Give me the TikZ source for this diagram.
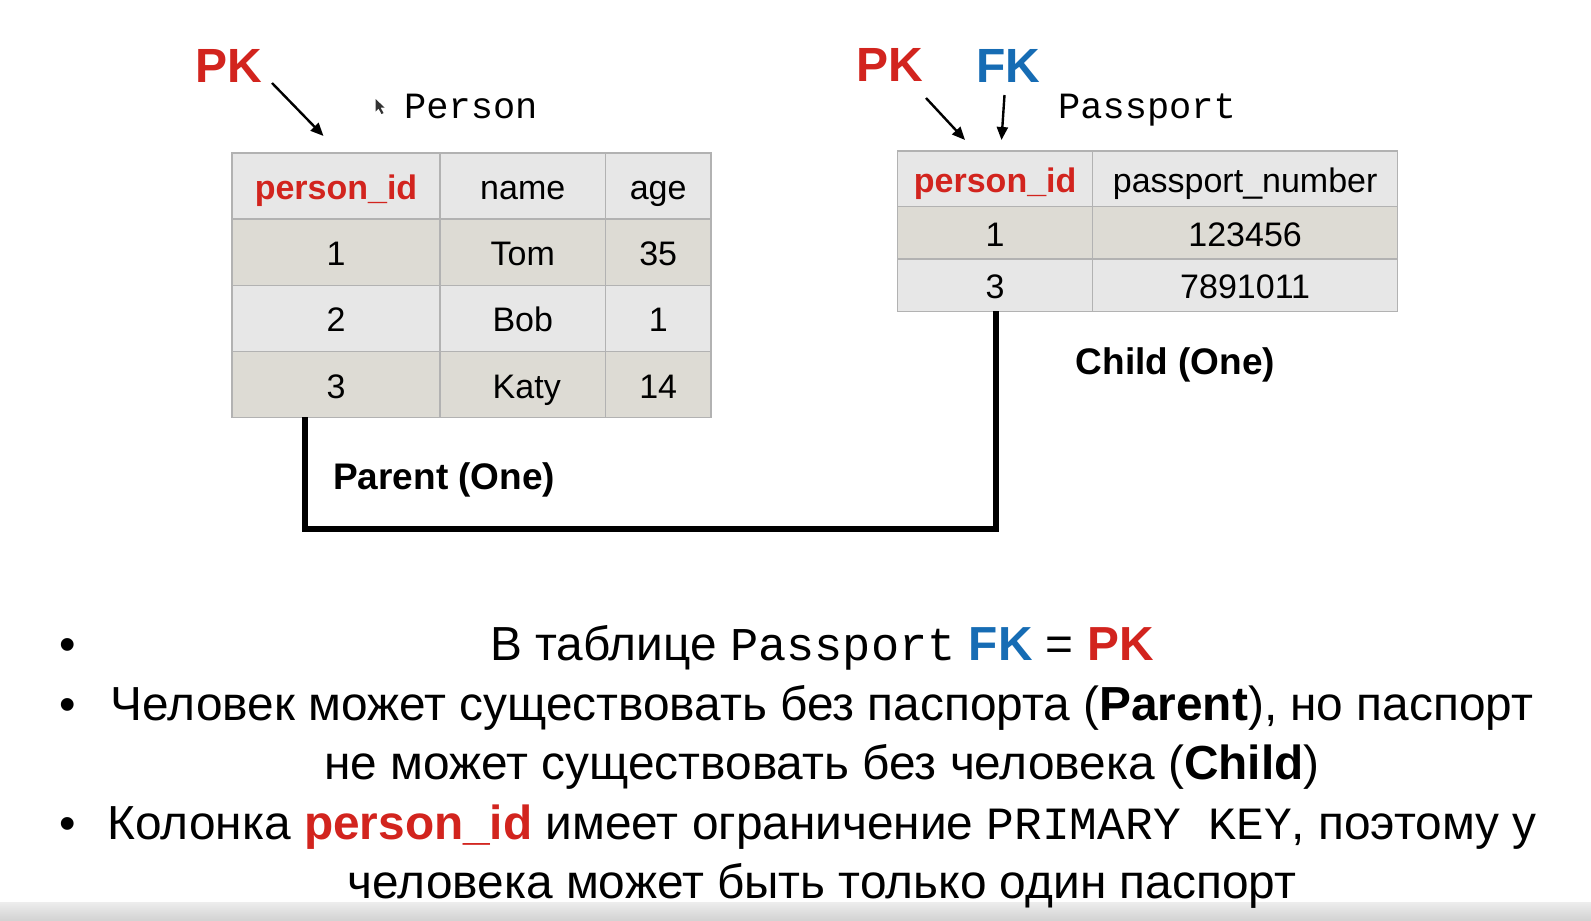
\documentclass[tikz,border=0pt]{standalone}
\usepackage{fontspec}
\setmainfont{Liberation Sans}
\setmonofont{Liberation Mono}
\usetikzlibrary{arrows.meta}
\definecolor{pkred}{RGB}{210,36,30}
\definecolor{fkblue}{RGB}{22,108,180}
\definecolor{hdrfill}{RGB}{231,231,231}
\definecolor{rowA}{RGB}{221,219,212}
\definecolor{rowB}{RGB}{231,231,231}
\definecolor{gridc}{RGB}{178,178,178}
\begin{document}
\begin{tikzpicture}[x=1pt,y=-1pt,
  cell/.style={draw=gridc, line width=1.3pt, inner sep=0pt, anchor=north west,
    font=\fontsize{34}{40}\selectfont, text height=34pt, text depth=7pt},
  tag/.style={font=\bfseries\fontsize{48}{56}\selectfont, inner sep=0pt},
  tname/.style={font=\ttfamily\fontsize{37}{44}\selectfont, anchor=base west, inner sep=0pt},
  rel/.style={font=\bfseries\fontsize{37}{44}\selectfont, anchor=base west, inner sep=0pt},
  ptr/.style={line width=2.4pt, -{Triangle[length=13pt,width=11pt]}},
  conn/.style={line width=6pt, line join=miter},
  btext/.style={font=\fontsize{47.8}{56}\selectfont, anchor=base, inner sep=0pt},
  bullet/.style={font=\fontsize{47}{56}\selectfont, anchor=base, inner sep=0pt}
]
\useasboundingbox (0,0) rectangle (1591,921);
\fill[white] (0,0) rectangle (1591,921);
\shade[top color=white!93!black, bottom color=white!82!black] (0,902) rectangle (1591,921);

% ---------- Person table ----------
\node[cell, fill=hdrfill, minimum width=208.1, minimum height=66.2] (ph1) at (231.3,152.2) {\textcolor{pkred}{\bfseries person\_id}};
\node[cell, fill=hdrfill, minimum width=165.4, minimum height=66.2] (ph2) at (439.4,152.2) {name};
\node[cell, fill=hdrfill, minimum width=105.5, minimum height=66.2] (ph3) at (604.8,152.2) {age};
\node[cell, fill=rowA, minimum width=208.1, minimum height=66.2] (p11) at (231.3,218.4) {1};
\node[cell, fill=rowA, minimum width=165.4, minimum height=66.2] (p12) at (439.4,218.4) {Tom};
\node[cell, fill=rowA, minimum width=105.5, minimum height=66.2] (p13) at (604.8,218.4) {35};
\node[cell, fill=rowB, minimum width=208.1, minimum height=66.2] (p21) at (231.3,284.6) {2};
\node[cell, fill=rowB, minimum width=165.4, minimum height=66.2] (p22) at (439.4,284.6) {Bob};
\node[cell, fill=rowB, minimum width=105.5, minimum height=66.2] (p23) at (604.8,284.6) {1};
\node[cell, fill=rowA, minimum width=208.1, minimum height=66.2] (p31) at (231.3,350.8) {3};
\node[cell, fill=rowA, minimum width=165.4, minimum height=66.2] (p32) at (439.4,350.8) {\hspace*{8pt}Katy};
\node[cell, fill=rowA, minimum width=105.5, minimum height=66.2] (p33) at (604.8,350.8) {14};

% ---------- Passport table ----------
\node[cell, fill=hdrfill, minimum width=195, minimum height=55.8] (qh1) at (897,150.2) {\textcolor{pkred}{\bfseries person\_id}};
\node[cell, fill=hdrfill, minimum width=305, minimum height=55.8] (qh2) at (1092,150.2) {passport\_number};
\node[cell, fill=rowA, minimum width=195, minimum height=52.3] (q11) at (897,206) {1};
\node[cell, fill=rowA, minimum width=305, minimum height=52.3] (q12) at (1092,206) {123456};
\node[cell, fill=rowB, minimum width=195, minimum height=52.2] (q21) at (897,258.3) {3};
\node[cell, fill=rowB, minimum width=305, minimum height=52.2] (q22) at (1092,258.3) {7891011};

% ---------- labels ----------
\node[tag, text=pkred] (pk1) at (228.5,66) {PK};
\node[tag, text=pkred] (pk2) at (890,64.5) {PK};
\node[tag, text=fkblue] (fk) at (1008.5,66) {FK};
\node[tname] (tperson) at (404,118) {Person};
\node[tname] (tpassport) at (1058,118) {Passport};
\node[rel] (parent) at (333,489) {Parent (One)};
\node[rel] (child) at (1075.6,374) {Child (One)};

% cursor
\fill[black!80] (375.5,99) -- (375.5,111.5) -- (378.5,108.5) -- (381.5,114) -- (383.5,113) -- (380.5,107.5) -- (384.5,107.5) -- cycle;

% ---------- arrows ----------
\coordinate (pk1t) at (272,83);
\coordinate (pk1h) at (323.5,136);
\coordinate (pk2t) at (926,98);
\coordinate (pk2h) at (965,140);
\coordinate (fkt) at (1004.5,95);
\coordinate (fkh) at (1001.5,140);
\draw[ptr] (pk1t) -- (pk1h);
\draw[ptr] (pk2t) -- (pk2h);
\draw[ptr] (fkt) -- (fkh);

% ---------- relation connector ----------
\coordinate (cs) at (305.4,417);
\coordinate (ce) at (996.4,310.5);
\coordinate (cb) at (0,528.7);
\draw[conn] (cs) -- (cs|-cb) -- (ce|-cb) -- (ce);

% ---------- bullets ----------
\node[bullet] (b1) at (68,660.5) {•};
\node[bullet] (b2) at (68,720) {•};
\node[bullet] (b3) at (68,839) {•};
\node[btext] (l1) at (822,660.5) {В таблице {\ttfamily\fontsize{47}{56}\selectfont Passport} \textcolor{fkblue}{\bfseries FK} = \textcolor{pkred}{\bfseries PK}};
\node[btext] (l2) at (822,720) {Человек может существовать без паспорта (\textbf{Parent}), но паспорт};
\node[btext] (l3) at (822,779.5) {не может существовать без человека (\textbf{Child})};
\node[btext] (l4) at (822,839) {Колонка \textcolor{pkred}{\bfseries person\_id} имеет ограничение {\ttfamily\fontsize{46.2}{56}\selectfont PRIMARY KEY}, поэтому у};
\node[btext] (l5) at (822,898.5) {человека может быть только один паспорт};
\end{tikzpicture}
\end{document}
